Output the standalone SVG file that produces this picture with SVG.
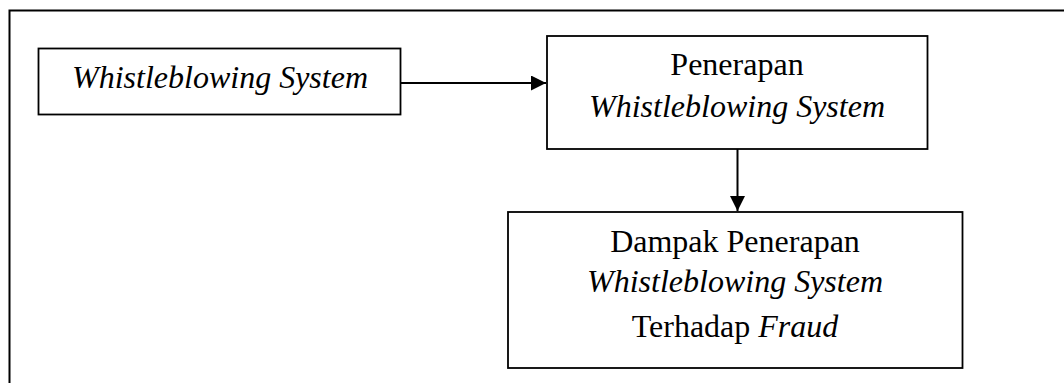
<svg xmlns="http://www.w3.org/2000/svg" width="1064" height="383" viewBox="0 0 1064 383">
<style>
.box{fill:#fff;stroke:#000;stroke-width:1.8}
.t{font-family:"Liberation Serif","Times New Roman",serif;font-size:32px;fill:#000;text-anchor:middle}
.i{font-style:italic}
.c{stroke:#000;stroke-width:2;fill:none}
</style>
<defs>
<marker id="ah" markerWidth="15" markerHeight="15" refX="15" refY="7.5" orient="auto" markerUnits="userSpaceOnUse">
<path d="M0,0 L15,7.5 L0,15 Z" fill="#000"/>
</marker>
</defs>
<rect width="1064" height="383" fill="#fff"/>
<g id="frame"><path d="M9.5,390 L9.5,10.5 L1064,10.5" class="c"/></g>
<g id="connectors">
<line x1="401" y1="83" x2="546" y2="83" class="c" marker-end="url(#ah)"/>
<line x1="737.5" y1="149" x2="737.5" y2="211" class="c" marker-end="url(#ah)"/>
</g>
<g id="n1">
<rect x="38.5" y="48.5" width="362" height="66" class="box"/>
<text x="220" y="88" class="t i">Whistleblowing System</text>
</g>
<g id="n2">
<rect x="547" y="36" width="380.5" height="113" class="box"/>
<text x="737" y="75" class="t">Penerapan</text>
<text x="737" y="117" class="t i">Whistleblowing System</text>
</g>
<g id="n3">
<rect x="508" y="212" width="454.5" height="156" class="box"/>
<text x="735" y="252" class="t">Dampak Penerapan</text>
<text x="735" y="292" class="t i">Whistleblowing System</text>
<text x="735" y="337" class="t">Terhadap <tspan class="i">Fraud</tspan></text>
</g>
</svg>
